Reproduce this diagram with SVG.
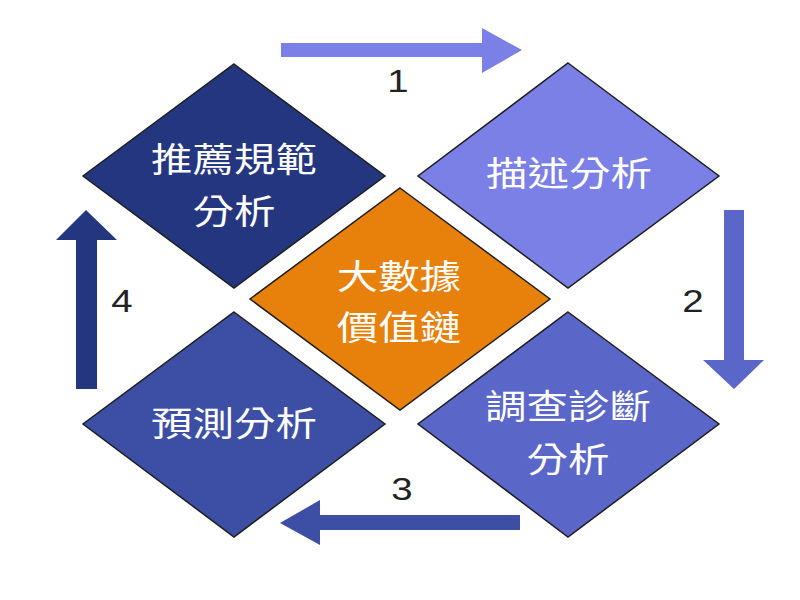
<svg xmlns="http://www.w3.org/2000/svg" width="800" height="600" viewBox="0 0 800 600">
<style>
.d{stroke:#1e1e1e;stroke-width:1.5}
.t{fill:#ffffff;font-family:"Noto Sans CJK TC","Noto Sans CJK SC",sans-serif;font-size:34px;text-anchor:middle}
.n{fill:#222222;font-family:"Liberation Sans",Arial,sans-serif;font-size:32px;text-anchor:middle}
</style>
<rect width="800" height="600" fill="#ffffff"/>
<g id="connectors">
<g id="arrow1"><polygon points="281,43 482,43 482,28 522,50 482,73 482,57 281,57" fill="#7b80e6"/><text class="n" transform="translate(398,92) scale(1.2,1)">1</text></g>
<g id="arrow2"><polygon points="724,210 744,210 744,360 764,360 734,389 703,360 724,360" fill="#5a66c8"/><text class="n" transform="translate(693,312) scale(1.2,1)">2</text></g>
<g id="arrow3"><polygon points="520,515 520,530 320,530 320,545 280,523 320,500 320,515" fill="#3d4fa5"/><text class="n" transform="translate(402,500) scale(1.2,1)">3</text></g>
<g id="arrow4"><polygon points="76,389 97,389 97,240 117,240 86,210 56,240 76,240" fill="#253680"/><text class="n" transform="translate(122,312) scale(1.2,1)">4</text></g>
</g>
<g id="prescriptive">
<polygon class="d" points="234,64 385,176 234,288 83,176" fill="#253680"/>
<text class="t" transform="translate(234,172) scale(1.22,1)">推薦規範</text>
<text class="t" transform="translate(234,224) scale(1.22,1)">分析</text>
</g>
<g id="descriptive">
<polygon class="d" points="568,63 719,176 568,288 418,176" fill="#7b80e6"/>
<text class="t" transform="translate(569,186) scale(1.22,1)">描述分析</text>
</g>
<g id="predictive">
<polygon class="d" points="234,312 385,424 234,537 83,424" fill="#3d4fa5"/>
<text class="t" transform="translate(234,436) scale(1.22,1)">預測分析</text>
</g>
<g id="diagnostic">
<polygon class="d" points="568,312 719,424 568,537 418,424" fill="#5a66c8"/>
<text class="t" transform="translate(568,419) scale(1.22,1)">調查診斷</text>
<text class="t" transform="translate(568,472) scale(1.22,1)">分析</text>
</g>
<g id="center">
<polygon class="d" points="400,188 550,299 400,410 250,299" fill="#e8800c"/>
<text class="t" transform="translate(399,289) scale(1.22,1)">大數據</text>
<text class="t" transform="translate(399,340) scale(1.22,1)">價值鏈</text>
</g>
</svg>
